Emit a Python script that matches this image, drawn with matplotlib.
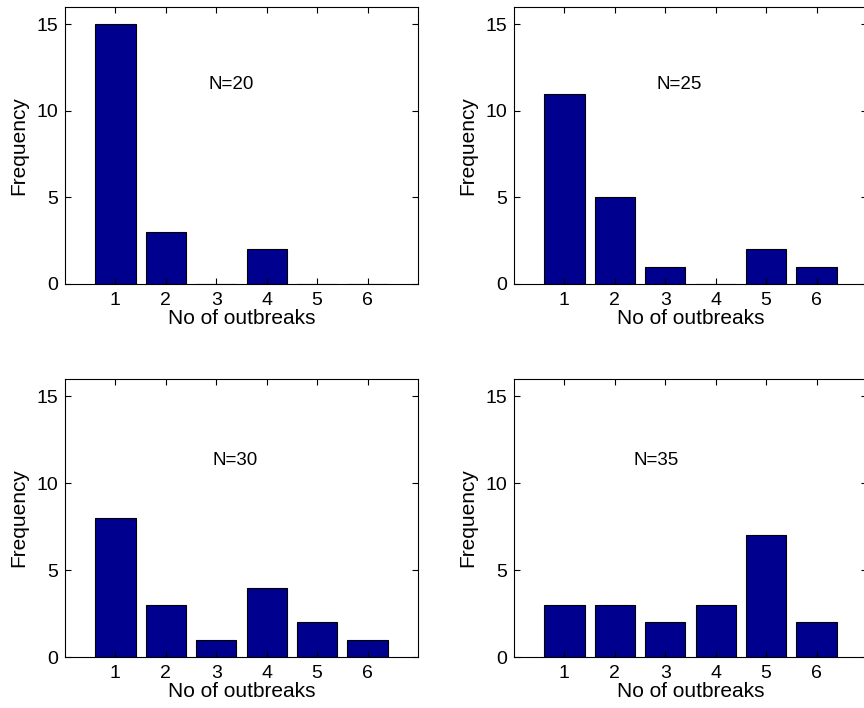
import matplotlib
matplotlib.use('Agg')
import matplotlib.pyplot as plt
import numpy as np

plt.rcParams['font.family'] = ['Liberation Sans', 'DejaVu Sans']

outbreaks = [1, 2, 3, 4, 5, 6]
freq_n20 = [15, 3, 0, 2, 0, 0]
freq_n25 = [11, 5, 1, 0, 2, 1]
freq_n30 = [8, 3, 1, 4, 2, 1]
freq_n35 = [3, 3, 2, 3, 7, 2]
panel_labels = ['N=20', 'N=25', 'N=30', 'N=35']
label_pos = [(2.85, 11.5), (2.83, 11.5), (2.93, 11.3), (2.36, 11.3)]

bar_color = '#00008f'

fig = plt.figure(figsize=(8.64, 7.08), dpi=100)
w = 353 / 864
rects = [
    (65 / 864, 1 - 284 / 708, w, 277 / 708),
    (514 / 864, 1 - 284 / 708, w, 277 / 708),
    (65 / 864, 1 - 657 / 708, w, 278 / 708),
    (514 / 864, 1 - 657 / 708, w, 278 / 708),
]
series = [freq_n20, freq_n25, freq_n30, freq_n35]

for rect, vals, lab, pos in zip(rects, series, panel_labels, label_pos):
    ax = fig.add_axes(rect)
    ax.bar(outbreaks, vals, width=0.8, color=bar_color, edgecolor='black', linewidth=0.8)
    ax.set_xlim(0, 7)
    ax.set_ylim(0, 16)
    ax.set_xticks(outbreaks)
    ax.set_yticks([0, 5, 10, 15])
    ax.tick_params(direction='in', top=True, right=True, length=4, labelsize=14, width=0.8)
    ax.tick_params(axis='y', pad=5)
    ax.tick_params(axis='x', pad=6)
    for s in ax.spines.values():
        s.set_linewidth(0.8)
    ax.set_xlabel('No of outbreaks', fontsize=15, labelpad=0)
    ax.set_ylabel('Frequency', fontsize=15, labelpad=6)
    ax.text(pos[0], pos[1], lab, fontsize=13.5, ha='left', va='center')

fig.savefig('out.png', dpi=100)
